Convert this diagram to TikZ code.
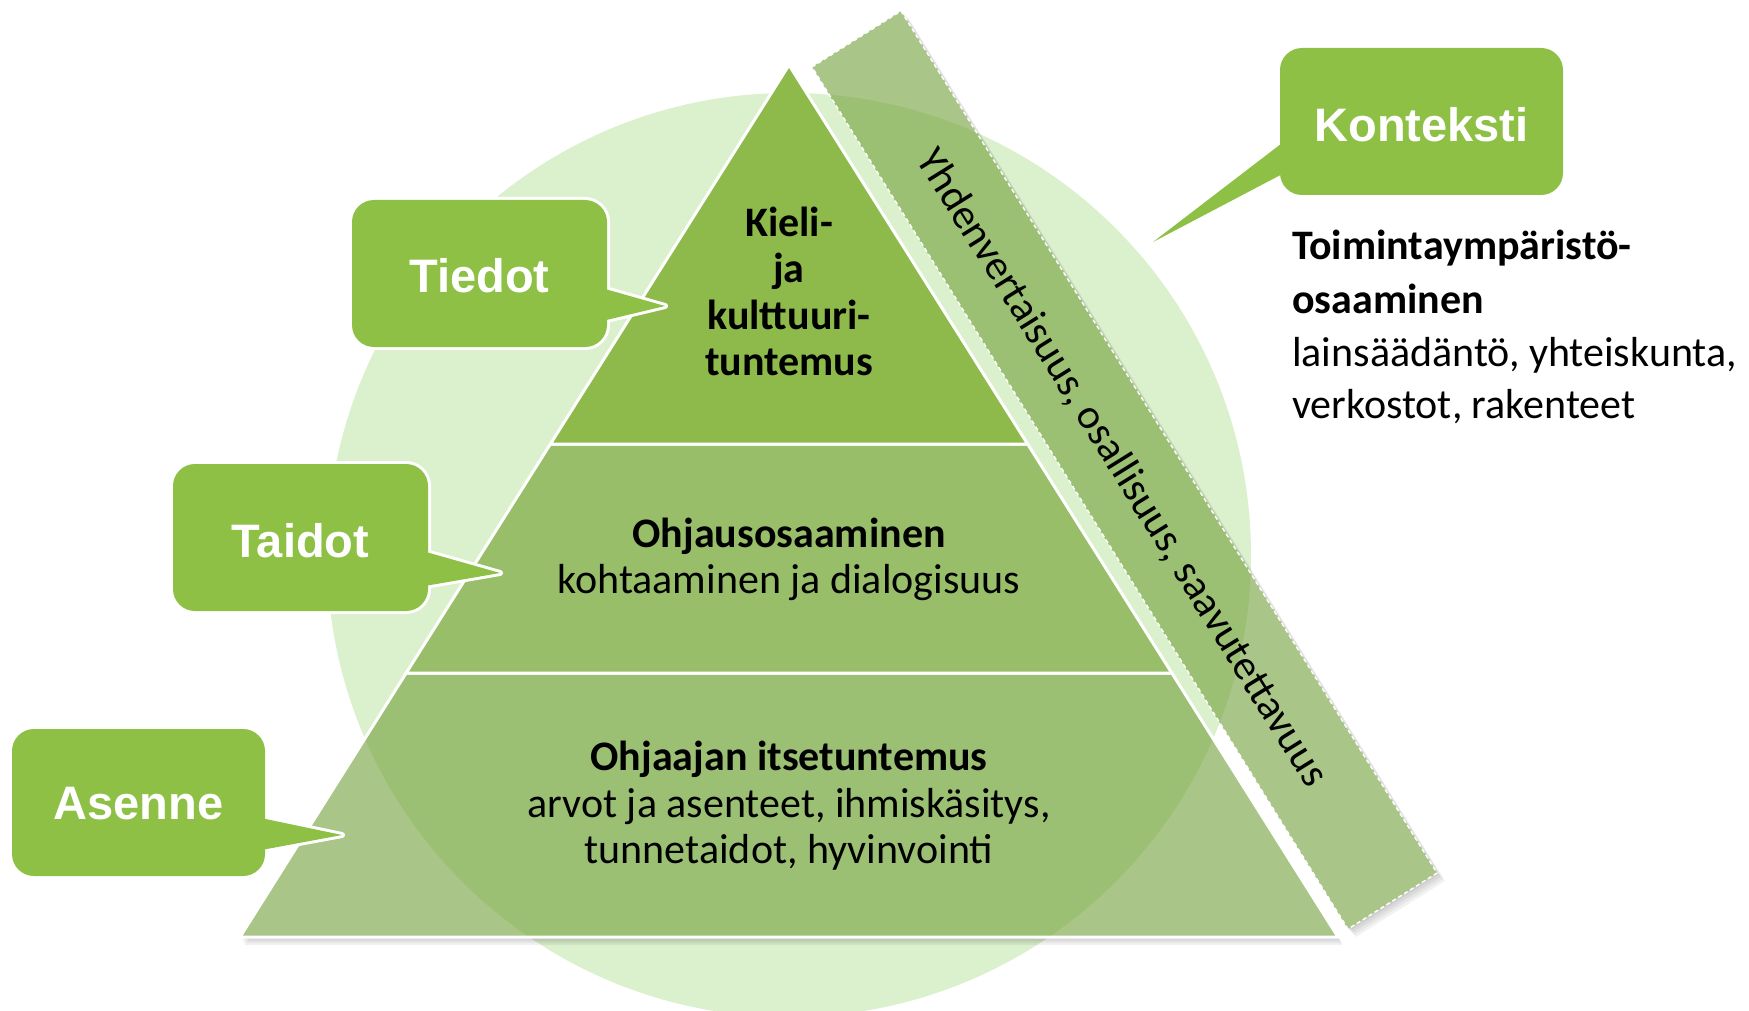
\documentclass[tikz,border=0pt]{standalone}
\usepackage{fontspec}
\setmainfont{Carlito}
\newfontfamily\arialfont{Liberation Sans}
\definecolor{circ}{RGB}{219,240,204}
\definecolor{callg}{RGB}{141,192,68}
\definecolor{topg}{RGB}{141,186,74}
\definecolor{midg}{RGB}{153,190,106}
\definecolor{loww}{RGB}{169,197,135}
\definecolor{lowc}{RGB}{156,192,115}
\tikzset{
  lvl/.style={draw=white, line width=3pt, line join=miter},
  body/.style={font=\fontsize{42}{46}\selectfont, inner sep=0pt, anchor=base, text=black},
  bodyb/.style={body, font=\fontsize{42}{46}\selectfont\bfseries},
  ctext/.style={font=\arialfont\bfseries\fontsize{47}{50}\selectfont, text=white, inner sep=0pt, anchor=base},
  cfill/.style={fill=callg},
  cline/.style={draw=white, line width=6pt, line join=round},
  shadowlayer/.style={fill=black, opacity=0.05}
}
\begin{document}
\begin{tikzpicture}[x=1pt, y=-1pt]
\useasboundingbox (0,0) rectangle (1749,1011);
\clip (0,0) rectangle (1749,1011);
% background circle
\fill[circ] (789,555) circle[radius=462];
% shadows
\foreach \d in {2,4,6,8} {
  \fill[shadowlayer, shift={(\d,\d)}] (812,67) -- (901,11) -- (1437,873) -- (1348,929) -- cycle;
  \fill[shadowlayer, shift={(\d*0.6,\d)}] (789,65) -- (1338,937) -- (240,937) -- cycle;
}
% band (opaque, lighter outside circle)
\fill[loww] (812,67) -- (901,11) -- (1437,873) -- (1348,929) -- cycle;
\begin{scope}
  \clip (789,555) circle[radius=462];
  \fill[lowc] (812,67) -- (901,11) -- (1437,873) -- (1348,929) -- cycle;
\end{scope}
\draw[white, line width=1.4pt, dash pattern=on 4pt off 3pt] (812,67) -- (901,11) -- (1437,873) -- (1348,929) -- cycle;
% pyramid levels
\fill[loww] (406.2,673) -- (1171.8,673) -- (1338,937) -- (240,937) -- cycle;
\begin{scope}
  \clip (789,555) circle[radius=462];
  \fill[lowc] (406.2,673) -- (1171.8,673) -- (1338,937) -- (240,937) -- cycle;
\end{scope}
\draw[lvl] (406.2,673) -- (1171.8,673) -- (1338,937) -- (240,937) -- cycle;
\filldraw[lvl, fill=midg] (550.4,444) -- (1027.6,444) -- (1171.8,673) -- (406.2,673) -- cycle;
\filldraw[lvl, fill=topg] (789,65) -- (1027.6,444) -- (550.4,444) -- cycle;
% pyramid texts
\node[bodyb] (k1) at (789,237) {Kieli-};
\node[bodyb] (k2) at (789,283) {ja};
\node[bodyb] (k3) at (789,329) {kulttuuri-};
\node[bodyb] (k4) at (789,375) {tuntemus};
\node[bodyb] (o1) at (789,547) {Ohjausosaaminen};
\node[body] (o2) at (789,593) {kohtaaminen ja dialogisuus};
\node[bodyb] (i1) at (789,770) {Ohjaajan itsetuntemus};
\node[body] (i2) at (789,817) {arvot ja asenteet, ihmiskäsitys,};
\node[body] (i3) at (789,863) {tunnetaidot, hyvinvointi};
% band text
\node[font=\fontsize{42}{46}\selectfont, inner sep=0pt, rotate=-58.1] (band) at (1122,468) {Yhdenvertaisuus, osallisuus, saavutettavuus};
% right text block
\node[bodyb, anchor=base west] (r1) at (1292,260) {Toimintaympäristö-};
\node[bodyb, anchor=base west] (r2) at (1292,313) {osaaminen};
\node[body, anchor=base west] (r3) at (1292,366) {lainsäädäntö, yhteiskunta,};
\node[body, anchor=base west] (r4) at (1292,418) {verkostot, rakenteet};
% callout Tiedot
\path[cline, rounded corners=22pt] (352,200) rectangle (607,347);
\path[cline] (598,287) -- (665,306) -- (598,322) -- cycle;
\fill[cfill, rounded corners=22pt] (352,200) rectangle (607,347);
\fill[cfill] (598,287) -- (665,306) -- (598,322) -- cycle;
\node[ctext] (tiedot) at (479.5,292) {Tiedot};
% callout Taidot
\path[cline, rounded corners=22pt] (173,464) rectangle (428,611);
\path[cline] (419,550) -- (500,573) -- (419,587) -- cycle;
\fill[cfill, rounded corners=22pt] (173,464) rectangle (428,611);
\fill[cfill] (419,550) -- (500,573) -- (419,587) -- cycle;
\node[ctext] (taidot) at (300.5,557) {Taidot};
% callout Asenne
\path[cline, rounded corners=22pt] (12,729) rectangle (265,876);
\path[cline] (256,817) -- (342,835) -- (256,851) -- cycle;
\fill[cfill, rounded corners=22pt] (12,729) rectangle (265,876);
\fill[cfill] (256,817) -- (342,835) -- (256,851) -- cycle;
\node[ctext] (asenne) at (138.5,819) {Asenne};
% callout Konteksti
\fill[cfill, rounded corners=22pt] (1280,48) rectangle (1563,195);
\fill[cfill] (1290,137) -- (1153,242) -- (1290,170) -- cycle;
\node[ctext] (konteksti) at (1421.5,142) {Konteksti};
\end{tikzpicture}
\end{document}
